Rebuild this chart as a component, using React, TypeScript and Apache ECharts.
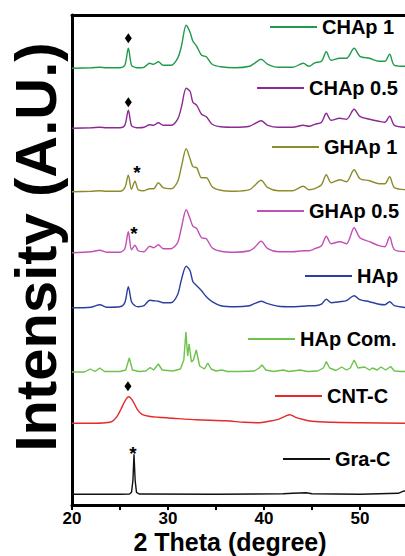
import React, { useEffect, useRef } from "react";
import * as echarts from "echarts";

// 2θ positions shared by the five HAp-based composite traces
const TWO_THETA = [20, 22, 22.9, 23.6, 25.0, 25.5, 25.87, 26.2, 26.56, 26.9, 27.5, 28.1, 28.5, 29.0, 29.5, 30.3, 31.0, 31.4, 31.9, 32.3, 32.6, 33.0, 33.5, 34.0, 34.6, 35.5, 37.0, 38.5, 39.0, 39.7, 40.4, 41.5, 43.0, 44.1, 44.7, 45.3, 46.0, 46.5, 47.0, 47.9, 48.6, 49.4, 50.0, 51.0, 52.0, 52.6, 53.1, 53.6, 55.0];

const CHAP_1 = [0, 0.5, 1, 0.5, 0.5, 3, 20, 3, 1, 0.5, 1, 5, 4, 6.5, 3, 3, 10, 22, 43, 36, 27, 22, 13, 11.5, 4, 1.5, 0.5, 2, 5, 9, 4, 1, 1, 5, 2, 5.5, 7, 16.5, 8, 10, 10, 20, 12, 10, 7, 7, 14, 3, 2];
const CHAP_05 = [0, 0.5, 1, 0.5, 0.5, 3, 18, 2.5, 1, 0.5, 1, 3.5, 3, 5.5, 3, 3, 9, 21, 40, 37, 26, 23, 14, 11.5, 4, 1.5, 1, 2, 4.5, 7.5, 3, 1, 1, 3, 2, 4, 6, 15, 8, 10, 9, 19, 12, 9, 7, 6, 12, 3, 1];
const GHAP_1 = [0, 0.5, 1, 0.5, 0.5, 4, 16.5, 2.5, 10.5, 2, 1, 3, 3, 9, 4, 3, 10, 25, 43, 33, 25, 24, 14, 14, 5, 1.5, 0.5, 2, 6, 11.5, 4, 1, 1, 5.5, 2, 3, 7, 17, 9, 12, 10, 22, 13, 11, 8, 8, 15, 4, 2];
const GHAP_05 = [0, 1, 2.5, 0.5, 0.5, 4, 21, 3, 7.5, 2, 1, 6.5, 5, 8, 4, 4, 10, 25, 43, 34, 26.5, 24, 15, 14, 5, 1.5, 0.5, 2, 5, 11.5, 4, 1, 1, 2, 2, 4, 7, 16.5, 9, 11, 9, 25, 15, 11, 7, 6, 16, 3, 1];
const HAP = [0, 0.5, 3, 0.5, 1, 5, 21, 6, 2, 1, 2, 7.5, 7, 6.5, 5, 5, 13, 28, 41.5, 37, 26, 22, 17, 11, 6, 2, 1, 2, 4, 6.5, 4, 1.5, 1, 1.5, 2, 2, 3.5, 8.5, 5, 6, 7, 12, 8, 6, 3.5, 3, 6, 2, 0];

// [2θ, intensity] pairs for the reference / carbon traces
const HAP_COM = [[20, 0], [21.3, 0], [21.9, 3], [22.4, 0.5], [22.9, 4], [23.4, 0.5], [25.0, 0.5], [25.6, 2], [25.97, 14], [26.3, 2], [27.0, 0.5], [27.7, 1], [28.15, 4.5], [28.5, 2], [29.0, 8], [29.4, 2], [30.5, 1], [31.3, 3], [31.65, 12], [31.87, 40], [32.05, 16], [32.2, 28], [32.45, 10], [32.65, 12], [32.95, 22], [33.3, 6], [33.8, 3], [34.15, 9], [34.5, 3], [35.0, 1], [35.6, 2], [36.2, 0.5], [37.5, 0.5], [39.0, 1], [39.5, 4], [39.8, 7], [40.2, 2], [41.0, 0.5], [42.0, 2], [42.6, 0.5], [43.8, 2], [44.5, 0.5], [45.6, 1], [46.2, 4], [46.5, 10.5], [46.85, 4], [47.5, 1.5], [48.1, 5], [48.6, 2], [49.0, 4], [49.4, 12], [49.8, 4], [50.5, 5], [51.0, 2], [51.3, 4], [51.8, 2], [52.2, 5], [52.7, 2], [53.2, 5.5], [53.6, 1], [54.3, 0.5], [55, 0.5]];
const CNT_C = [[20, 0], [22, 0], [23.5, 0.5], [24.2, 2], [24.7, 7], [25.1, 14], [25.5, 22], [25.9, 26.5], [26.3, 23], [26.8, 14], [27.3, 9], [28, 7], [29, 6], [30.5, 5], [33, 3.5], [36, 2.5], [38, 1], [39.5, 0.5], [40.5, 2], [41.5, 4], [42.2, 7], [42.7, 8.5], [43.3, 6], [44, 4], [45, 2], [47, 1], [50, 0.5], [55, 0]];
const GRA_C = [[20, 0], [25, 0], [26.0, 0.3], [26.2, 2], [26.35, 14], [26.46, 40], [26.58, 14], [26.72, 2], [27, 0.3], [35, 0], [42, 0.5], [43, 1], [44.4, 1.5], [45, 0.5], [50, 0], [54, 1], [54.6, 3.5], [55, 2]];

const SERIES_NAMES = ["CHAp 1", "CHAp 0.5", "GHAp 1", "GHAp 0.5", "HAp", "HAp Com.", "CNT-C", "Gra-C"];
const STACK_OFFSETS = [436.7, 376.7, 313.3, 252.3, 197.3, 133, 81.7, 10.7];
const X_LABELS = [20, 30, 40, 50];

// peak annotations: series index, 2θ, height above baseline, mark
const MARKERS = [
  { s: 0, t: 25.87, h: 30, mark: "diamond" },
  { s: 1, t: 25.87, h: 26, mark: "diamond" },
  { s: 2, t: 26.77, h: 23, mark: "*" },
  { s: 3, t: 26.46, h: 23, mark: "*" },
  { s: 6, t: 25.83, h: 37, mark: "diamond" },
  { s: 7, t: 26.35, h: 45, mark: "*" },
];

const COLORS = ["#1e9b4b", "#8b2a93", "#8c8c2c", "#c24fb4", "#2c3f9e", "#6cc24a", "#e62a2a", "#111111"];
const SMOOTH = [0.3, 0.3, 0.3, 0.3, 0.3, false, 0.3, false];
const LEGEND_POS = [[270, 28], [257, 89], [272, 148], [257, 212], [305, 277], [248, 340], [275, 397], [283, 460]];
const FONT = "'Liberation Sans', Arial, sans-serif";

function pairsFor(i: number): number[][] {
  const composite = [CHAP_1, CHAP_05, GHAP_1, GHAP_05, HAP];
  if (i < 5) return TWO_THETA.map((t, k) => [t, composite[i][k]]);
  if (i === 5) return HAP_COM;
  if (i === 6) return CNT_C;
  return GRA_C;
}

export default function App() {
  const ref = useRef<HTMLDivElement>(null);
  useEffect(() => {
    if (!ref.current) return;
    const chart = echarts.init(ref.current, undefined, { renderer: "svg" });

    const series = SERIES_NAMES.map((name, i) => {
      const off = STACK_OFFSETS[i];
      const marks = MARKERS.filter((m) => m.s === i).map((m) =>
        m.mark === "diamond"
          ? { coord: [m.t, m.h + off], symbol: "diamond", symbolSize: [7, 10], label: { show: false } }
          : {
              coord: [m.t, m.h + off],
              symbol: "circle",
              symbolSize: 0,
              label: { show: true, formatter: "*", fontSize: 19, fontWeight: "bold", color: "#000", fontFamily: FONT, offset: [0, 4] },
            }
      );
      return {
        type: "line",
        name,
        data: pairsFor(i).map(([t, v]) => [t, v + off]),
        symbol: "none",
        smooth: SMOOTH[i],
        lineStyle: { width: 1.4, color: COLORS[i] },
        itemStyle: { color: COLORS[i] },
        markPoint: marks.length ? { silent: true, itemStyle: { color: "#000" }, data: marks } : undefined,
      };
    });

    const legends = SERIES_NAMES.map((name, i) => ({
      data: [name],
      left: LEGEND_POS[i][0],
      top: LEGEND_POS[i][1] - 11,
      padding: 0,
      icon: "rect",
      itemWidth: 47,
      itemHeight: 2,
      itemGap: 0,
      selectedMode: false,
      textStyle: { fontSize: 20, fontWeight: "bold", color: "#000", fontFamily: FONT, padding: [0, 0, 0, 0] },
    }));

    chart.setOption({
      animation: false,
      backgroundColor: "#fff",
      grid: { left: 72, right: 0, top: 15, bottom: 51, containLabel: false },
      xAxis: [
        {
          type: "value",
          min: 20,
          max: 54.7,
          interval: 5,
          axisLine: { show: true, lineStyle: { color: "#000", width: 3 } },
          axisTick: { show: true, inside: false, length: 5, lineStyle: { color: "#000", width: 2 } },
          axisLabel: {
            show: true,
            margin: 5,
            fontSize: 17,
            lineHeight: 17,
            fontWeight: "bold",
            color: "#000",
            fontFamily: FONT,
            showMaxLabel: false,
            formatter: (v: number) => (X_LABELS.indexOf(v) >= 0 ? String(v) : ""),
          },
          splitLine: { show: false },
        },
        {
          type: "value",
          position: "top",
          min: 20,
          max: 54.7,
          axisLine: { show: true, lineStyle: { color: "#000", width: 3 } },
          axisTick: { show: false },
          axisLabel: { show: false },
          splitLine: { show: false },
        },
      ],
      yAxis: {
        type: "value",
        min: 0,
        max: 490,
        axisLine: { show: true, lineStyle: { color: "#000", width: 3 } },
        axisTick: { show: false },
        axisLabel: { show: false },
        splitLine: { show: false },
      },
      legend: legends,
      series,
      graphic: [
        {
          type: "text",
          x: 35,
          y: 247,
          rotation: Math.PI / 2,
          style: {
            text: "Intensity (A.U.)",
            fontSize: 58,
            fontWeight: "bold",
            fontFamily: FONT,
            fill: "#000",
            textAlign: "center",
            textVerticalAlign: "middle",
          },
        },
        {
          type: "text",
          x: 230,
          y: 554,
          style: {
            text: "2 Theta (degree)",
            fontSize: 25,
            lineHeight: 25,
            fontWeight: "bold",
            fontFamily: FONT,
            fill: "#000",
            textAlign: "center",
            textVerticalAlign: "bottom",
          },
        },
      ],
    });
    return () => chart.dispose();
  }, []);

  return <div ref={ref} style={{ position: "fixed", left: 0, top: 0, width: 405, height: 556 }} />;
}
